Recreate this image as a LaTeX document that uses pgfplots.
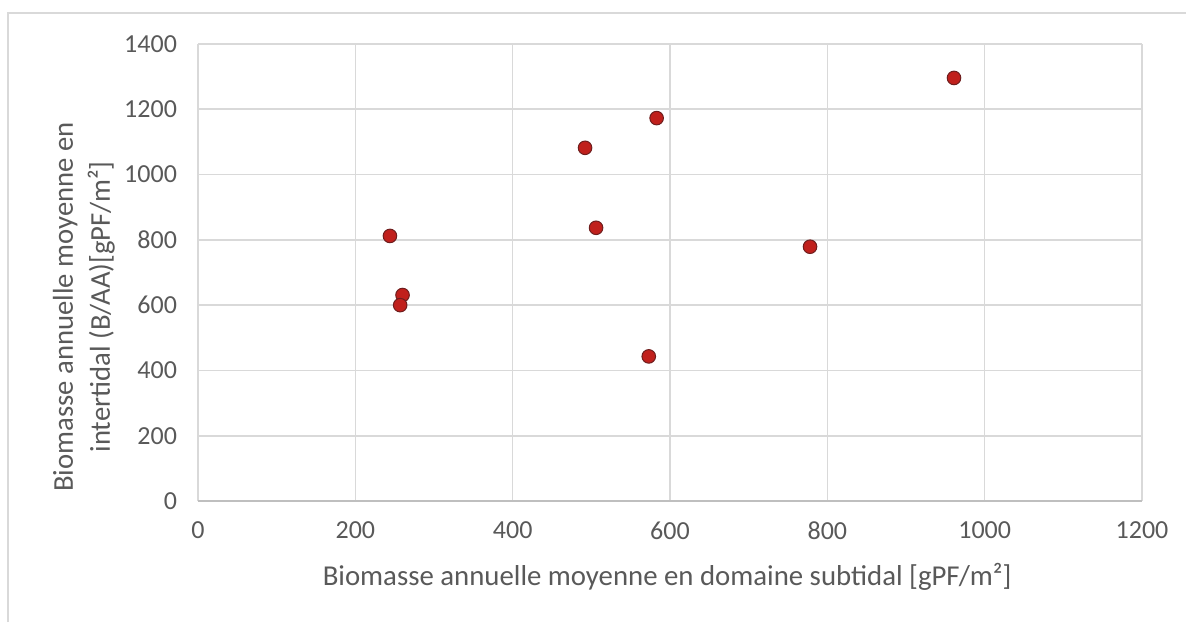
\documentclass[border=0pt]{standalone}
\usepackage{fontspec}
\setmainfont{Carlito}
\usepackage{pgfplots}
\pgfplotsset{compat=1.18}
\definecolor{gridc}{HTML}{D9D9D9}
\definecolor{axisc}{HTML}{BFBFBF}
\definecolor{txtc}{HTML}{595959}
\definecolor{mfill}{HTML}{C0201C}
\definecolor{mdraw}{HTML}{6E1E1E}
\begin{document}
\begin{tikzpicture}
\useasboundingbox (0,0) rectangle (593pt,311pt);
\draw[gridc, line width=0.8pt] (4pt,0) -- (4pt,304.5pt) -- (593pt,304.5pt);
\begin{axis}[
  at={(99pt,60.5pt)}, anchor=south west,
  scale only axis, width=472pt, height=228.5pt,
  xmin=0, xmax=1200, ymin=0, ymax=1400,
  xtick={0,200,...,1200}, ytick={0,200,...,1400},
  grid=major, grid style={gridc, line width=0.8pt},
  axis line style={draw=none},
  major tick length=0pt,
  extra y ticks={0}, extra y tick labels={},
  extra y tick style={grid style={axisc, line width=0.8pt}},
  tick label style={font=\fontsize{13}{15}\selectfont, text=txtc},
  /pgf/number format/assume math mode=true,
  /pgf/number format/1000 sep={},
  xticklabel style={yshift=-7pt},
  yticklabel style={xshift=-7pt},
  xlabel={Biomasse annuelle moyenne en domaine subtidal [gPF/m²]},
  ylabel={Biomasse annuelle moyenne en\\intertidal (B/AA)[gPF/m²]},
  xlabel style={font=\fontsize{14.4}{17}\selectfont, text=txtc, at={(rel axis cs:0.497,-0.166)}, anchor=center},
  ylabel style={font=\fontsize{14.35}{18.5}\selectfont, text=txtc, align=center, at={(rel axis cs:-0.121,0.4245)}, anchor=center},
  clip=false,
]
\addplot[only marks, mark=*, mark size=3.4pt, mark options={fill=mfill, draw=mdraw, line width=0.5pt}] coordinates {
(244,812) (260,631) (257,600) (492,1082) (506,837) (583,1173) (573,443) (778,779) (961,1296)
};
\end{axis}
\end{tikzpicture}
\end{document}
